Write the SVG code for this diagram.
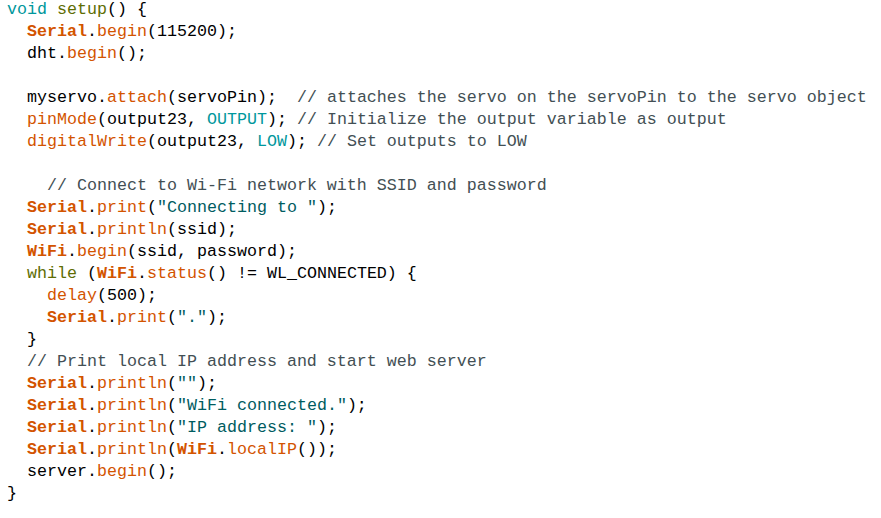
<svg xmlns="http://www.w3.org/2000/svg" width="881" height="518" viewBox="0 0 881 518" xml:space="preserve">
<style>
text{font-family:"Liberation Mono","Courier New",monospace;font-size:16.67px;fill:#000000;white-space:pre}
.k{fill:#00979C}
.s{fill:#5E6D03}
.c{fill:#D35400;font-weight:bold}
.f{fill:#D35400}
.q{fill:#005C5F}
.m{fill:#434F54}
</style>
<rect width="881" height="518" fill="#ffffff"/>
<g id="code">
<text x="7" y="13.5"><tspan class="k">void</tspan> <tspan class="s">setup</tspan>() {</text>
<text x="27" y="35.5"><tspan class="c">Serial</tspan>.<tspan class="f">begin</tspan>(115200);</text>
<text x="27" y="57.5">dht.<tspan class="f">begin</tspan>();</text>
<text x="27" y="101.5">myservo.<tspan class="f">attach</tspan>(servoPin);  <tspan class="m">// attaches the servo on the servoPin to the servo object</tspan></text>
<text x="27" y="123.5"><tspan class="f">pinMode</tspan>(output23, <tspan class="k">OUTPUT</tspan>); <tspan class="m">// Initialize the output variable as output</tspan></text>
<text x="27" y="145.5"><tspan class="f">digitalWrite</tspan>(output23, <tspan class="k">LOW</tspan>); <tspan class="m">// Set outputs to LOW</tspan></text>
<text x="47" y="189.5" class="m">// Connect to Wi-Fi network with SSID and password</text>
<text x="27" y="211.5"><tspan class="c">Serial</tspan>.<tspan class="f">print</tspan>(<tspan class="q">"Connecting to "</tspan>);</text>
<text x="27" y="233.5"><tspan class="c">Serial</tspan>.<tspan class="f">println</tspan>(ssid);</text>
<text x="27" y="255.5"><tspan class="c">WiFi</tspan>.<tspan class="f">begin</tspan>(ssid, password);</text>
<text x="27" y="277.5"><tspan class="s">while</tspan> (<tspan class="c">WiFi</tspan>.<tspan class="f">status</tspan>() != WL_CONNECTED) {</text>
<text x="47" y="299.5"><tspan class="f">delay</tspan>(500);</text>
<text x="47" y="321.5"><tspan class="c">Serial</tspan>.<tspan class="f">print</tspan>(<tspan class="q">"."</tspan>);</text>
<text x="27" y="343.5">}</text>
<text x="27" y="365.5" class="m">// Print local IP address and start web server</text>
<text x="27" y="387.5"><tspan class="c">Serial</tspan>.<tspan class="f">println</tspan>(<tspan class="q">""</tspan>);</text>
<text x="27" y="409.5"><tspan class="c">Serial</tspan>.<tspan class="f">println</tspan>(<tspan class="q">"WiFi connected."</tspan>);</text>
<text x="27" y="431.5"><tspan class="c">Serial</tspan>.<tspan class="f">println</tspan>(<tspan class="q">"IP address: "</tspan>);</text>
<text x="27" y="453.5"><tspan class="c">Serial</tspan>.<tspan class="f">println</tspan>(<tspan class="c">WiFi</tspan>.<tspan class="f">localIP</tspan>());</text>
<text x="27" y="475.5">server.<tspan class="f">begin</tspan>();</text>
<text x="7" y="497.5">}</text>
</g>
</svg>
